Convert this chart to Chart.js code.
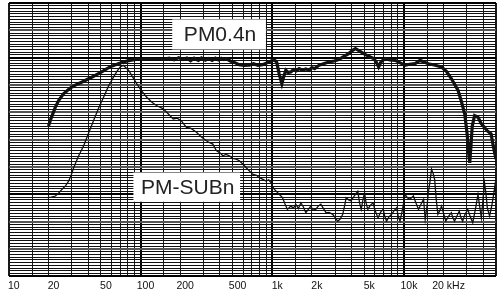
<!DOCTYPE html>
<html>
<head>
<meta charset="utf-8">
<script src="https://cdn.jsdelivr.net/npm/chart.js@4.4.1/dist/chart.umd.min.js"></script>
<style>
  html, body { margin: 0; padding: 0; background: #fff; overflow: hidden; }
  #wrap { width: 499px; height: 295px; }
</style>
</head>
<body>
<div id="wrap"><canvas id="resp"></canvas></div>
<script>
// --- 1. DATA ---
// PM0.4n : frequency (Hz) / level
const pmFreq = [20, 21, 22.6, 24, 26, 29.4, 33, 36, 40, 44, 50, 55.6, 61, 66, 75, 83, 92, 100, 115, 132,
  150, 165, 180, 195, 210, 225, 240, 255, 275, 290, 310, 330, 350, 370, 390, 410, 430, 450, 480, 520,
  560, 610, 670, 720, 780, 845, 920, 990, 1035, 1080, 1130, 1183, 1230, 1268, 1320, 1383, 1450, 1520, 1598, 1700,
  1800, 1902, 2000, 2100, 2263, 2450, 2692, 2950, 3204, 3500, 3812, 4050, 4283, 4550, 4946, 5400, 5886, 6150, 6422, 6700,
  7216, 7800, 8582, 9300, 10210, 11000, 12150, 13250, 14200, 15300, 17000, 19300, 21000, 22950, 24300, 25770, 27300, 28950, 30200, 31000,
  31600, 32300, 33000, 34400, 36500, 38500, 40900, 43000, 45900, 47500, 50000];
const pmLevel = [55, 58, 62, 64.5, 66.8, 69, 70.3, 71.1, 72.2, 73.2, 74.6, 76, 77, 77.6, 78.5, 79, 79.4, 79.5, 79.6, 79.5,
  79.4, 79.8, 79.2, 80, 79.3, 79.9, 78.9, 79.8, 79, 79.9, 79.1, 79.7, 79, 79.8, 79.2, 79.8, 79.3, 79.6, 78.8, 78.2,
  77.4, 77.2, 77.3, 77.8, 77.2, 77.4, 78.2, 78.9, 79.2, 78.4, 74, 70.5, 73.5, 75.4, 74.6, 74.8, 75.6, 75.2, 76, 75.4,
  75.9, 75.4, 76.4, 76, 77.2, 77.8, 78.4, 78.8, 79.3, 80.5, 81.5, 82.6, 83.3, 82.6, 81.5, 80.5, 79.7, 78.5, 76.6, 78.5,
  79.7, 79.2, 79, 78.2, 77.2, 77.6, 77.8, 79, 78.4, 77.8, 77.3, 76.6, 75, 72.3, 70.2, 68, 64, 59.4, 52, 45,
  41.5, 48, 55, 58.8, 58.2, 56, 54.5, 53.2, 52.1, 48, 42.9];

// PM-SUBn : frequency (Hz) / level
const subFreq = [19.6, 21, 22.6, 24, 25.4, 27, 28.5, 30, 31.1, 33.9, 37, 40, 44, 48, 52.5, 57, 62.3, 66, 70, 74,
  81, 87, 93.5, 100, 111, 122, 132, 149, 162, 177, 190, 205, 223, 240, 266, 290, 316, 335, 354, 376,
  400, 422, 445, 473, 500, 532, 563, 597, 651, 710, 760, 798, 850, 896, 940, 977, 1035, 1100, 1196, 1250,
  1304, 1383, 1450, 1509, 1580, 1650, 1720, 1800, 1880, 1960, 2050, 2140, 2240, 2340, 2450, 2560, 2700, 2880, 3000, 3140,
  3280, 3430, 3550, 3640, 3800, 3970, 4200, 4460, 4600, 4740, 4880, 5020, 5150, 5320, 5550, 5820, 6050, 6360, 6650, 6960,
  7150, 7380, 7700, 8060, 8400, 8810, 9050, 9340, 9700, 10200, 10600, 11100, 11800, 12300, 12900, 13500, 14100, 14500, 15000, 15300,
  15800, 16200, 16700, 17100, 17600, 18100, 18700, 19300, 20000, 20800, 21800, 22900, 23500, 24200, 25200, 26300, 27100, 27900, 29000, 30500,
  31800, 33300, 35000, 36500, 37500, 38700, 39800, 40900, 42000, 43000, 44700, 46500, 48000, 49000, 50000];
const subLevel = [28.8, 29, 29.4, 30.6, 31.9, 33.2, 34.9, 37.5, 39.8, 44.1, 47.8, 52, 57, 61.5, 65.6, 69.5, 72.9, 74.9, 76.6, 77.2,
  75.4, 73, 70.5, 68.4, 65.6, 63.7, 62.5, 61.3, 59.5, 57.6, 57.9, 56.8, 54.5, 54.2, 52.7, 51, 49.6, 48.9, 48.4, 46,
  45.2, 44.1, 44.6, 44.1, 43.2, 42.9, 42.3, 41.1, 39.2, 37.4, 37, 36.1, 35.5, 34.9, 35.3, 34.3, 31.9, 30.6, 28.8, 26.5,
  24.5, 25.7, 25, 26.4, 24.8, 26.9, 25.5, 23.3, 24.5, 25.7, 24.2, 24.5, 25.8, 26.4, 24.8, 23.3, 23.4, 22.7, 21.5, 20.2,
  21, 22.7, 26, 28.8, 28, 27.6, 29.5, 31.2, 27, 24.5, 28, 30.6, 27, 24.5, 26, 26.9, 24, 21.4, 23.5, 24.5,
  22, 20.2, 21.8, 22.7, 24, 25.1, 22, 20.2, 24, 30, 28.8, 28.2, 29.4, 27, 24.5, 26.5, 28.2, 20.8, 26, 30.6,
  35, 39.2, 37.5, 35.5, 28, 22.7, 24, 25.7, 23, 20.2, 22, 23.3, 21.5, 20.2, 22, 23.9, 21.5, 20.2, 22.5, 24.5,
  22, 19.6, 25, 30, 26, 21.4, 28, 34.3, 30, 25, 22.1, 26, 30, 33.1, 30];

// grid / tick values
const xGrid = [10, 15, 20, 30, 40, 50, 60, 70, 80, 90,
  100, 150, 200, 300, 400, 500, 600, 700, 800, 900,
  1000, 1500, 2000, 3000, 4000, 5000, 6000, 7000, 8000, 9000,
  10000, 15000, 20000, 30000, 40000, 50000];
const xDecades = [100, 1000, 10000];
const xLabelValues = [10, 20, 50, 100, 200, 500, 1000, 2000, 5000, 10000, 20000];
const xLabelTexts = ['10', '20', '50', '100', '200', '500', '1k', '2k', '5k', '10k', '20 kHz'];
const yHeavy = [30, 80];
const yGrid = [];
for (let v = 0; v <= 100; v++) yGrid.push(v);

// curve captions
const captionTexts = ['PM0.4n', 'PM-SUBn'];

// --- 2. HELPERS ---
function toPoints(xs, ys) {
    return xs.map((x, i) => ({ x: x, y: ys[i] }));
}

const captionPlugin = {
    id: 'captions',
    afterDatasetsDraw(chart) {
        const ctx = chart.ctx;
        const xs = chart.scales.x, ys = chart.scales.y;
        // box corners given in (Hz, level)
        const boxes = [
            { text: captionTexts[0], f1: 174, f2: 895, v1: 94.0, v2: 83.0 },
            { text: captionTexts[1], f1: 88.3, f2: 570, v1: 38.0, v2: 27.3 }
        ];
        ctx.save();
        boxes.forEach(b => {
            const l = xs.getPixelForValue(b.f1), r = xs.getPixelForValue(b.f2);
            const t = ys.getPixelForValue(b.v1), btm = ys.getPixelForValue(b.v2);
            ctx.fillStyle = '#fff';
            ctx.fillRect(l, t, r - l, btm - t);
            ctx.fillStyle = '#222';
            ctx.font = '21px "Liberation Sans", Arial, sans-serif';
            ctx.textAlign = 'center';
            ctx.textBaseline = 'middle';
            ctx.fillText(b.text, (l + r) / 2 + 1, (t + btm) / 2 + 1);
        });
        ctx.restore();
    }
};

// --- 3. CHART ---
new Chart(document.getElementById('resp').getContext('2d'), {
    type: 'line',
    data: {
        datasets: [{
            label: 'PM0.4n',
            data: toPoints(pmFreq, pmLevel),
            borderColor: '#111',
            borderWidth: 3.2,
            pointRadius: 0,
            tension: 0
        }, {
            label: 'PM-SUBn',
            data: toPoints(subFreq, subLevel),
            borderColor: '#111',
            borderWidth: 1.3,
            pointRadius: 0,
            tension: 0
        }]
    },
    options: {
        responsive: true,
        maintainAspectRatio: false,
        animation: false,
        layout: { padding: { left: 8, right: 1, top: 3, bottom: 0 } },
        plugins: {
            legend: { display: false },
            tooltip: { enabled: false }
        },
        scales: {
            x: {
                type: 'logarithmic',
                min: 10,
                max: 50000,
                afterBuildTicks: axis => { axis.ticks = xGrid.map(v => ({ value: v })); },
                border: { display: false },
                grid: {
                    drawTicks: false,
                    color: c => xDecades.includes(c.tick.value) ? '#000' : '#1a1a1a',
                    lineWidth: c => (xDecades.includes(c.tick.value) || c.tick.value === 10 || c.tick.value === 50000) ? 2 : 1
                },
                ticks: {
                    autoSkip: false,
                    maxRotation: 0,
                    padding: 3,
                    labelOffset: 5,
                    color: '#111',
                    font: { family: '"Liberation Sans", Arial, sans-serif', size: 10.5 },
                    callback: v => {
                        const i = xLabelValues.indexOf(v);
                        return i >= 0 ? xLabelTexts[i] : '';
                    }
                }
            },
            y: {
                min: 0,
                max: 100,
                afterBuildTicks: axis => { axis.ticks = yGrid.map(v => ({ value: v })); },
                border: { display: false },
                grid: {
                    drawTicks: false,
                    color: c => {
                        const v = c.tick.value;
                        if (yHeavy.includes(v) || v === 0 || v === 100) return '#000';
                        return v % 10 === 0 ? '#555' : '#111';
                    },
                    lineWidth: c => {
                        const v = c.tick.value;
                        if (yHeavy.includes(v)) return 2;
                        return v % 10 === 0 ? 2 : 1;
                    }
                },
                ticks: { display: false }
            }
        }
    },
    plugins: [captionPlugin]
});
</script>
</body>
</html>
